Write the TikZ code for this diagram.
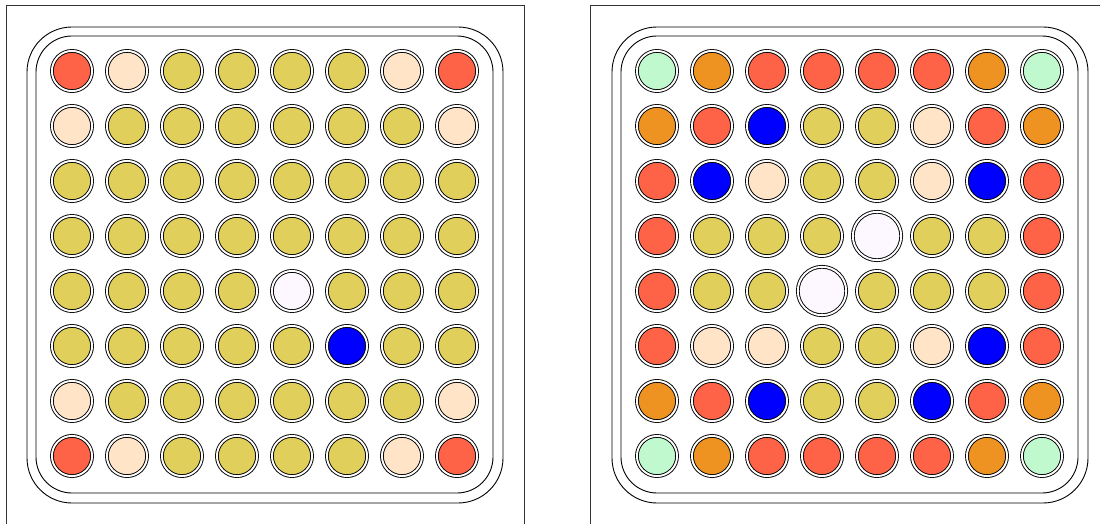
\documentclass[tikz,border=0pt]{standalone}
\definecolor{cR}{HTML}{FF6347}
\definecolor{cP}{HTML}{FFE4C8}
\definecolor{cY}{HTML}{E0CF5A}
\definecolor{cB}{HTML}{0000FF}
\definecolor{cW}{HTML}{FDF7FF}
\definecolor{cG}{HTML}{C1F9CF}
\definecolor{cO}{HTML}{EE9322}
\tikzset{
  pin/.style={circle, draw=black, line width=0.9pt, double=white, double distance=1.9pt, inner sep=0pt, minimum size=40.2pt},
  pinR/.style={fill=cR}, pinP/.style={fill=cP}, pinY/.style={fill=cY},
  pinB/.style={fill=cB}, pinW/.style={fill=cW}, pinG/.style={fill=cG},
  pinO/.style={fill=cO}, pinL/.style={fill=cW, minimum size=48.4pt},
  frame/.style={line width=1pt, draw=black!80},
  wall/.style={line width=0.9pt, draw=black},
}
\begin{document}
\begin{tikzpicture}[x=1pt,y=-1pt]
\useasboundingbox (0,0) rectangle (1100,524);
\begin{scope}
\clip (0,0) rectangle (1100,524);
% panel frames
\draw[frame] (6,530) -- (6,6) -- (524,6) -- (524,530);
\draw[frame] (590,530) -- (590,6) -- (1110,6);
% left panel walls
\draw[wall, rounded corners=45pt] (27,27) rectangle (503,503);
\draw[wall, rounded corners=36pt] (36,36) rectangle (493,493);
% right panel walls
\draw[wall, rounded corners=45pt] (612,27) rectangle (1088,503);
\draw[wall, rounded corners=36pt] (621,36) rectangle (1078,493);
% left grid
\foreach \row [count=\j from 0] in {
  {R,P,Y,Y,Y,Y,P,R},
  {P,Y,Y,Y,Y,Y,Y,P},
  {Y,Y,Y,Y,Y,Y,Y,Y},
  {Y,Y,Y,Y,Y,Y,Y,Y},
  {Y,Y,Y,Y,W,Y,Y,Y},
  {Y,Y,Y,Y,Y,B,Y,Y},
  {P,Y,Y,Y,Y,Y,Y,P},
  {R,P,Y,Y,Y,Y,P,R}}{
  \foreach \c [count=\i from 0] in \row {
    \node[pin, pin\c] (a-\i-\j) at ({72+55*\i},{71+55*\j}) {};
  }
}
% right grid
\foreach \row [count=\j from 0] in {
  {G,O,R,R,R,R,O,G},
  {O,R,B,Y,Y,P,R,O},
  {R,B,P,Y,Y,P,B,R},
  {R,Y,Y,Y,L,Y,Y,R},
  {R,Y,Y,L,Y,Y,Y,R},
  {R,P,P,Y,Y,P,B,R},
  {O,R,B,Y,Y,B,R,O},
  {G,O,R,R,R,R,O,G}}{
  \foreach \c [count=\i from 0] in \row {
    \node[pin, pin\c] (b-\i-\j) at ({657+55*\i},{71+55*\j}) {};
  }
}
\end{scope}
\end{tikzpicture}
\end{document}
